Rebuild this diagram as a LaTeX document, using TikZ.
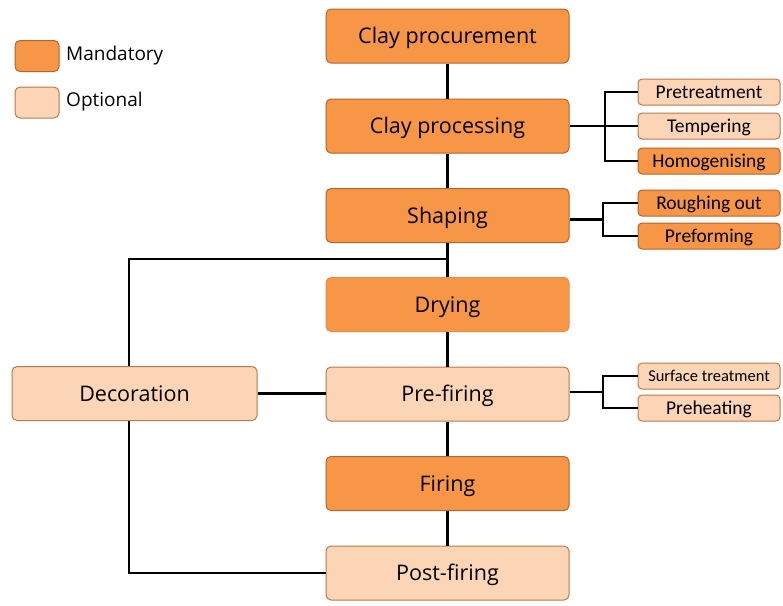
\documentclass[tikz,border=0pt]{standalone}
\usepackage{fontspec}
\setmainfont{Open Sans}
\newfontfamily\subfont{Carlito}
\definecolor{mand}{HTML}{F79646}
\definecolor{mandb}{HTML}{B5652A}
\definecolor{opt}{HTML}{FBD5B5}
\definecolor{optb}{HTML}{B97A4C}
\begin{document}
\begin{tikzpicture}[x=1pt,y=-1pt,
  box/.style={rounded corners=5pt, line width=1pt, minimum width=243pt, minimum height=54pt, inner sep=0pt, text height=15.4pt, text depth=0pt, font=\fontsize{21.5}{24}\selectfont},
  mandf/.style={fill=mand, draw=mandb},
  optf/.style={fill=opt, draw=optb},
  subbox/.style={rounded corners=4pt, line width=1pt, minimum width=142pt, minimum height=26pt, inner sep=0pt, text height=12.6pt, text depth=0pt, font=\subfont\fontsize{19.5}{21}\selectfont},
  legbox/.style={rounded corners=5pt, line width=1pt, minimum width=44pt, minimum height=31pt, inner sep=0pt},
  legtext/.style={anchor=west, inner sep=0pt, text height=13.6pt, text depth=0pt, font=\fontsize{19}{22}\selectfont},
  conn/.style={line width=2.2pt, black}]
\useasboundingbox[fill=white] (0,0) rectangle (783,605);
% legend
\node[legbox, mandf] (lm) at (37,56) {};
\node[legtext] (lmt) at (66,54) {Mandatory};
\node[legbox, optf] (lo) at (37,102.5) {};
\node[legtext] (lot) at (66,100) {Optional};
% main chain
\node[box, mandf] (cproc) at (447.5,36) {Clay procurement};
\node[box, mandf] (cpro) at (447.5,126) {Clay processing};
\node[box, mandf] (shap) at (447.5,215.5) {Shaping};
\node[box, mandf, draw=mand!90!black!60!mand] (dry) at (447.5,304.5) {Drying};
\node[box, optf] (pref) at (447.5,394) {Pre-firing};
\node[box, mandf] (fir) at (447.5,483.5) {Firing};
\node[box, optf] (post) at (447.5,573) {Post-firing};
\node[box, optf, minimum width=245pt] (dec) at (134.5,393.5) {Decoration};
% sub steps
\node[subbox, optf] (pret) at (709,92) {Pretreatment};
\node[subbox, optf] (temp) at (709,126) {Tempering};
\node[subbox, mandf] (homo) at (709,161) {Homogenising};
\node[subbox, mandf] (rough) at (709,203) {Roughing out};
\node[subbox, mandf] (prefo) at (709,236) {Preforming};
\node[subbox, optf, text height=10.6pt, font=\subfont\fontsize{16.5}{18}\selectfont] (surf) at (709,376) {Surface treatment};
\node[subbox, optf] (preh) at (709,408) {Preheating};
% connectors main
\draw[conn] (cproc) -- (cpro);
\draw[conn] (cpro) -- (shap);
\draw[conn] (shap) -- (dry);
\draw[conn] (dry) -- (pref);
\draw[conn] (pref) -- (fir);
\draw[conn] (fir) -- (post);
% decoration
\coordinate (j1) at (447.5,259);
\coordinate (dx) at (129,0);
\draw[conn] (j1) -| (dec.north -| dx);
\draw[conn] (dec.east) -- (pref.west |- dec.east);
\draw[conn] (dec.south -| dx) |- (post.west);
% brackets
\coordinate (b1) at (605,126);
\draw[conn] (cpro.east) -- (temp.west);
\draw[conn] (pret.west) -| (b1) |- (homo.west);
\coordinate (b2) at (603,219.5);
\draw[conn] (shap.east |- b2) -- (b2);
\draw[conn] (rough.west) -| (b2) |- (prefo.west);
\coordinate (b3) at (603,392);
\draw[conn] (pref.east |- b3) -- (b3);
\draw[conn] (surf.west) -| (b3) |- (preh.west);
\end{tikzpicture}
\end{document}
